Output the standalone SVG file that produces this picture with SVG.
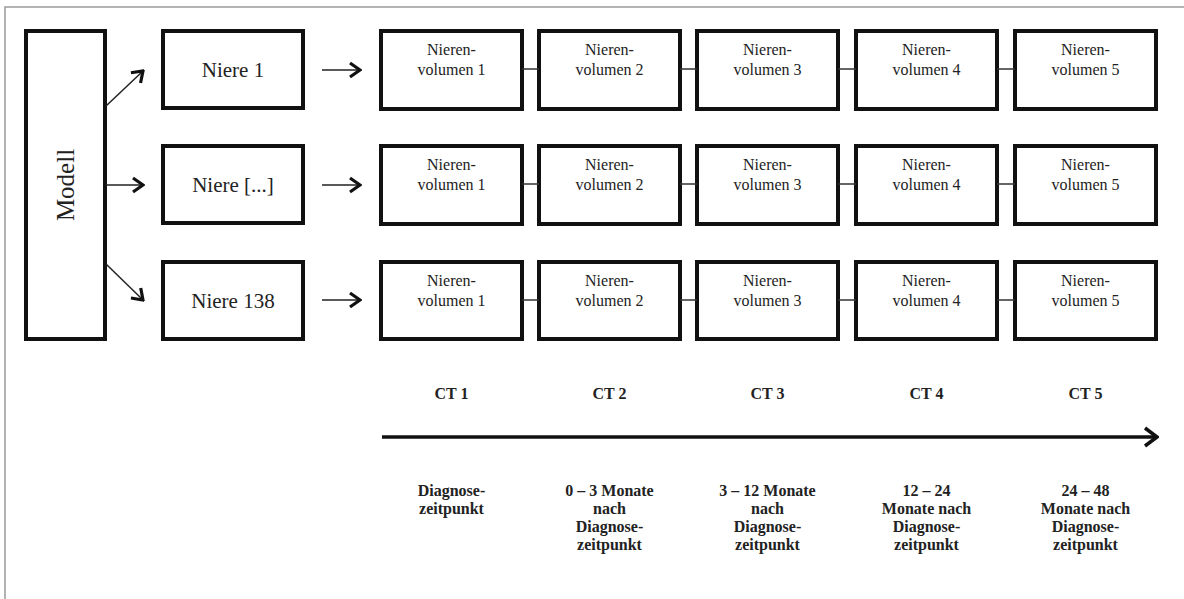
<svg xmlns="http://www.w3.org/2000/svg" width="1184" height="599" viewBox="0 0 1184 599">
<style>
.box{fill:#fff;stroke:#111;stroke-width:4}
.t{font-family:"Liberation Serif","Times New Roman",serif;fill:#222;text-anchor:middle}
.vol{font-size:16px}
.niere{font-size:21px}
.b{font-size:16px;font-weight:bold}
.link{stroke:#333;stroke-width:1.5;fill:none}
.arr{stroke:#222;stroke-width:1.5;fill:none;marker-end:url(#ch)}
.frame{stroke:#9a9a9a;stroke-width:1.5;fill:none}
</style>
<defs>
<marker id="ch" viewBox="0 0 14 18" refX="12" refY="9" markerWidth="14" markerHeight="18" markerUnits="userSpaceOnUse" orient="auto">
<path d="M2,2 L12,9 L2,16" fill="none" stroke="#111" stroke-width="3.2"/>
</marker>
<marker id="chb" viewBox="0 0 16 22" refX="14" refY="11" markerWidth="16" markerHeight="22" markerUnits="userSpaceOnUse" orient="auto">
<path d="M2,2 L14,11 L2,20" fill="none" stroke="#111" stroke-width="3.5"/>
</marker>
</defs>
<rect width="1184" height="599" fill="#fff"/>
<path class="frame" d="M5,599 V7 H1184"/>

<g id="modell">
<rect class="box" x="26" y="31" width="79" height="308"/>
<text class="t" x="0" y="0" font-size="25" transform="translate(74,185) rotate(-90)">Modell</text>
</g>

<g id="niere1"><rect class="box" x="163" y="31" width="140" height="77"/><text class="t niere" x="233" y="77">Niere 1</text></g>
<g id="niere2"><rect class="box" x="163" y="146" width="140" height="77"/><text class="t niere" x="233" y="192">Niere [...]</text></g>
<g id="niere3"><rect class="box" x="163" y="262" width="140" height="77"/><text class="t niere" x="233" y="308">Niere 138</text></g>

<g id="r1v1"><rect class="box" x="381" y="31" width="141" height="78"/><text class="t vol" x="451.5" y="55">Nieren-</text><text class="t vol" x="451.5" y="75">volumen 1</text></g>
<g id="r1v2"><rect class="box" x="539" y="31" width="141" height="78"/><text class="t vol" x="609.5" y="55">Nieren-</text><text class="t vol" x="609.5" y="75">volumen 2</text></g>
<g id="r1v3"><rect class="box" x="697" y="31" width="141" height="78"/><text class="t vol" x="767.5" y="55">Nieren-</text><text class="t vol" x="767.5" y="75">volumen 3</text></g>
<g id="r1v4"><rect class="box" x="856" y="31" width="141" height="78"/><text class="t vol" x="926.5" y="55">Nieren-</text><text class="t vol" x="926.5" y="75">volumen 4</text></g>
<g id="r1v5"><rect class="box" x="1015" y="31" width="141" height="78"/><text class="t vol" x="1085.5" y="55">Nieren-</text><text class="t vol" x="1085.5" y="75">volumen 5</text></g>

<g id="r2v1"><rect class="box" x="381" y="146" width="141" height="78"/><text class="t vol" x="451.5" y="170">Nieren-</text><text class="t vol" x="451.5" y="190">volumen 1</text></g>
<g id="r2v2"><rect class="box" x="539" y="146" width="141" height="78"/><text class="t vol" x="609.5" y="170">Nieren-</text><text class="t vol" x="609.5" y="190">volumen 2</text></g>
<g id="r2v3"><rect class="box" x="697" y="146" width="141" height="78"/><text class="t vol" x="767.5" y="170">Nieren-</text><text class="t vol" x="767.5" y="190">volumen 3</text></g>
<g id="r2v4"><rect class="box" x="856" y="146" width="141" height="78"/><text class="t vol" x="926.5" y="170">Nieren-</text><text class="t vol" x="926.5" y="190">volumen 4</text></g>
<g id="r2v5"><rect class="box" x="1015" y="146" width="141" height="78"/><text class="t vol" x="1085.5" y="170">Nieren-</text><text class="t vol" x="1085.5" y="190">volumen 5</text></g>

<g id="r3v1"><rect class="box" x="381" y="262" width="141" height="77"/><text class="t vol" x="451.5" y="286">Nieren-</text><text class="t vol" x="451.5" y="306">volumen 1</text></g>
<g id="r3v2"><rect class="box" x="539" y="262" width="141" height="77"/><text class="t vol" x="609.5" y="286">Nieren-</text><text class="t vol" x="609.5" y="306">volumen 2</text></g>
<g id="r3v3"><rect class="box" x="697" y="262" width="141" height="77"/><text class="t vol" x="767.5" y="286">Nieren-</text><text class="t vol" x="767.5" y="306">volumen 3</text></g>
<g id="r3v4"><rect class="box" x="856" y="262" width="141" height="77"/><text class="t vol" x="926.5" y="286">Nieren-</text><text class="t vol" x="926.5" y="306">volumen 4</text></g>
<g id="r3v5"><rect class="box" x="1015" y="262" width="141" height="77"/><text class="t vol" x="1085.5" y="286">Nieren-</text><text class="t vol" x="1085.5" y="306">volumen 5</text></g>

<g id="connectors">
<line class="arr" x1="106" y1="106" x2="143" y2="71"/>
<line class="arr" x1="106" y1="185" x2="143" y2="185"/>
<line class="arr" x1="106" y1="264" x2="143" y2="300"/>
<line class="arr" x1="322" y1="70" x2="360" y2="70"/>
<line class="arr" x1="322" y1="185" x2="360" y2="185"/>
<line class="arr" x1="322" y1="300" x2="360" y2="300"/>
<path class="link" d="M522,69 H539 M680,69 H697 M838,69 H856 M997,69 H1015"/>
<path class="link" d="M522,184 H539 M680,184 H697 M838,184 H856 M997,184 H1015"/>
<path class="link" d="M522,300 H539 M680,300 H697 M838,300 H856 M997,300 H1015"/>
<line x1="382" y1="437" x2="1157" y2="437" stroke="#111" stroke-width="3.5" marker-end="url(#chb)"/>
</g>

<g id="ct-labels">
<text class="t b" x="451.5" y="399">CT 1</text>
<text class="t b" x="609.5" y="399">CT 2</text>
<text class="t b" x="767.5" y="399">CT 3</text>
<text class="t b" x="926.5" y="399">CT 4</text>
<text class="t b" x="1085.5" y="399">CT 5</text>
</g>

<g id="time-labels">
<text class="t b" x="451.5" y="496">Diagnose-</text>
<text class="t b" x="451.5" y="514">zeitpunkt</text>
<text class="t b" x="609.5" y="496">0 – 3 Monate</text>
<text class="t b" x="609.5" y="514">nach</text>
<text class="t b" x="609.5" y="532">Diagnose-</text>
<text class="t b" x="609.5" y="550">zeitpunkt</text>
<text class="t b" x="767.5" y="496">3 – 12 Monate</text>
<text class="t b" x="767.5" y="514">nach</text>
<text class="t b" x="767.5" y="532">Diagnose-</text>
<text class="t b" x="767.5" y="550">zeitpunkt</text>
<text class="t b" x="926.5" y="496">12 – 24</text>
<text class="t b" x="926.5" y="514">Monate nach</text>
<text class="t b" x="926.5" y="532">Diagnose-</text>
<text class="t b" x="926.5" y="550">zeitpunkt</text>
<text class="t b" x="1085.5" y="496">24 – 48</text>
<text class="t b" x="1085.5" y="514">Monate nach</text>
<text class="t b" x="1085.5" y="532">Diagnose-</text>
<text class="t b" x="1085.5" y="550">zeitpunkt</text>
</g>
</svg>
